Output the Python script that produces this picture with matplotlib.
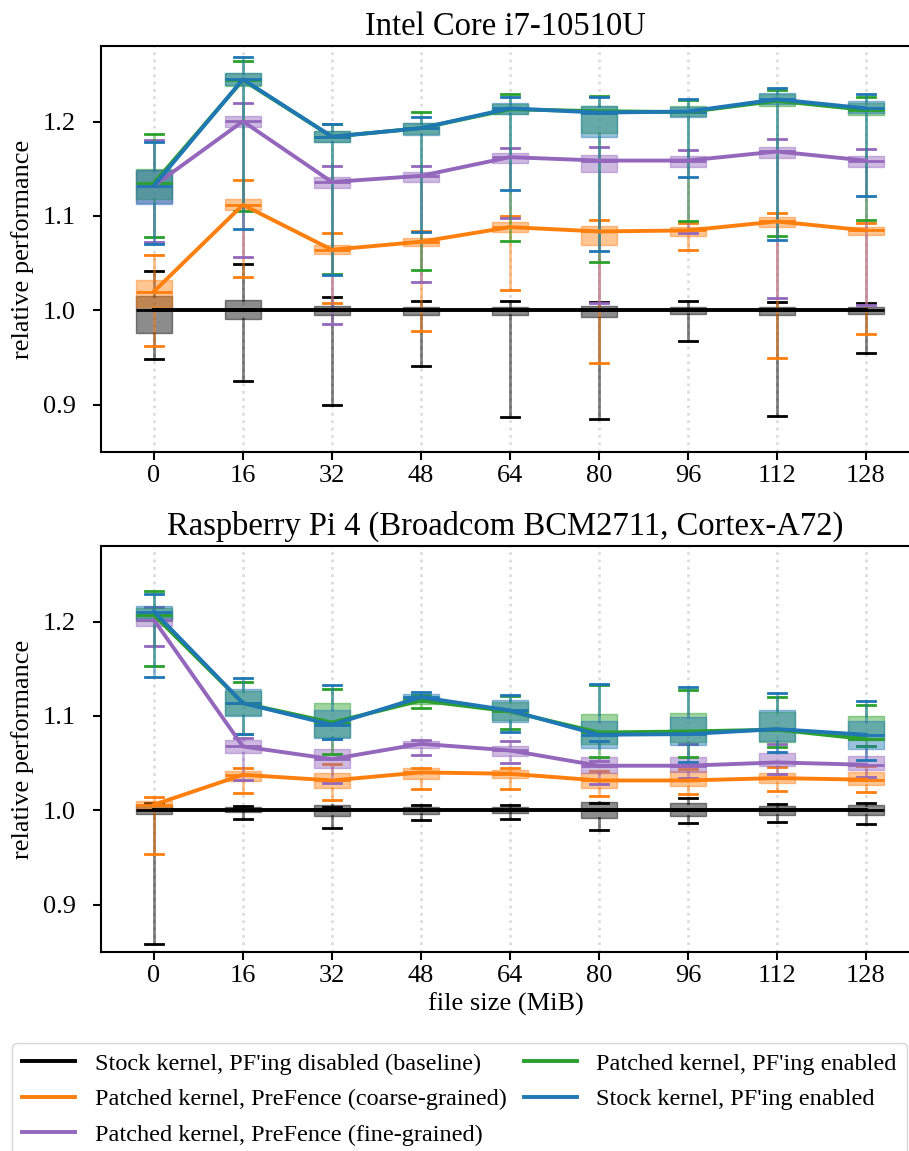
import matplotlib.pyplot as plt
import numpy as np

plt.rcParams['font.family'] = ['Liberation Serif', 'DejaVu Serif']

sizes = [0, 16, 32, 48, 64, 80, 96, 112, 128]

labels = ["Stock kernel, PF'ing disabled (baseline)",
          "Patched kernel, PreFence (coarse-grained)",
          "Patched kernel, PreFence (fine-grained)",
          "Patched kernel, PF'ing enabled",
          "Stock kernel, PF'ing enabled"]
colors = ['black', '#ff7f0e', '#9467bd', '#2ca02c', '#1f77b4']

# --- Intel Core i7-10510U ---
intel_base = dict(
    med=[1.0, 1.0, 1.0, 1.0, 1.0, 1.0, 1.0, 1.0, 1.0],
    q1=[0.976, 0.991, 0.995, 0.995, 0.995, 0.993, 0.996, 0.995, 0.996],
    q3=[1.015, 1.011, 1.005, 1.004, 1.004, 1.005, 1.004, 1.004, 1.004],
    lo=[0.9485, 0.925, 0.8995, 0.9414, 0.887, 0.8847, 0.9672, 0.8885, 0.955],
    hi=[1.0413, 1.0487, 1.0138, 1.0102, 1.0102, 1.0092, 1.0095, 1.0085, 1.0078])
intel_coarse = dict(
    med=[1.020, 1.1118, 1.0642, 1.0727, 1.0882, 1.0836, 1.0847, 1.0942, 1.0847],
    q1=[1.004, 1.106, 1.0597, 1.0685, 1.0829, 1.0689, 1.0787, 1.0879, 1.0797],
    q3=[1.0325, 1.1185, 1.0695, 1.0765, 1.0935, 1.0893, 1.0885, 1.0985, 1.0885],
    lo=[0.9626, 1.0356, 1.0074, 0.9778, 1.0219, 0.9443, 1.0642, 0.950, 0.975],
    hi=[1.0585, 1.138, 1.0822, 1.0843, 1.1005, 1.0956, 1.093, 1.103, 1.093])
intel_fine = dict(
    med=[1.132, 1.2003, 1.136, 1.1425, 1.1623, 1.1587, 1.1587, 1.1683, 1.1587],
    q1=[1.1136, 1.194, 1.1295, 1.1365, 1.1566, 1.1471, 1.1524, 1.1612, 1.1524],
    q3=[1.149, 1.206, 1.1418, 1.1467, 1.1665, 1.1647, 1.163, 1.1735, 1.1637],
    lo=[1.0727, 1.0564, 0.9855, 1.0296, 1.0977, 1.0078, 1.0818, 1.013, 1.006],
    hi=[1.18, 1.2194, 1.1527, 1.153, 1.1725, 1.1735, 1.17, 1.1813, 1.1707])
intel_patched = dict(
    med=[1.1347, 1.244, 1.184, 1.193, 1.213, 1.211, 1.21, 1.222, 1.2123],
    q1=[1.118, 1.2373, 1.178, 1.187, 1.2084, 1.1875, 1.2056, 1.216, 1.2073],
    q3=[1.150, 1.251, 1.1905, 1.199, 1.219, 1.2166, 1.216, 1.2288, 1.2194],
    lo=[1.0776, 1.1058, 1.039, 1.0423, 1.0737, 1.0508, 1.0949, 1.0783, 1.096],
    hi=[1.187, 1.2645, 1.197, 1.210, 1.229, 1.227, 1.223, 1.233, 1.2265])
intel_stock = dict(
    med=[1.132, 1.2448, 1.184, 1.193, 1.214, 1.2095, 1.2106, 1.2236, 1.214],
    q1=[1.1125, 1.2388, 1.178, 1.186, 1.2085, 1.184, 1.2049, 1.2183, 1.2088],
    q3=[1.149, 1.251, 1.1905, 1.198, 1.2198, 1.2166, 1.2158, 1.2307, 1.2222],
    lo=[1.0698, 1.086, 1.038, 1.083, 1.128, 1.0628, 1.141, 1.0748, 1.1213],
    hi=[1.1785, 1.2688, 1.1975, 1.205, 1.2257, 1.2257, 1.224, 1.236, 1.2293])

# --- Raspberry Pi 4 ---
rpi_base = dict(
    med=[1.0, 1.0, 1.0, 1.0, 1.0, 1.0, 1.0, 1.0, 1.0],
    q1=[0.9965, 0.998, 0.9937, 0.9965, 0.9972, 0.9915, 0.9937, 0.9951, 0.9951],
    q3=[1.006, 1.0032, 1.006, 1.0035, 1.0035, 1.009, 1.0078, 1.005, 1.0053],
    lo=[0.8589, 0.9908, 0.9813, 0.9894, 0.9912, 0.9792, 0.9862, 0.9877, 0.9855],
    hi=[1.0078, 1.0042, 1.004, 1.0053, 1.0053, 1.008, 1.013, 1.007, 1.0078])
rpi_coarse = dict(
    med=[1.006, 1.0377, 1.0317, 1.0402, 1.0388, 1.0317, 1.0317, 1.0342, 1.0325],
    q1=[1.0025, 1.0307, 1.0236, 1.0335, 1.0342, 1.0236, 1.0261, 1.0289, 1.0272],
    q3=[1.0095, 1.0420, 1.0395, 1.0445, 1.0423, 1.0395, 1.0413, 1.040, 1.0406],
    lo=[0.9538, 1.0183, 1.0113, 1.0226, 1.0226, 1.0155, 1.0176, 1.0201, 1.0198],
    hi=[1.0138, 1.0448, 1.049, 1.0444, 1.0444, 1.0420, 1.0440, 1.0459, 1.0466])
rpi_fine = dict(
    med=[1.2018, 1.0677, 1.0543, 1.0705, 1.0635, 1.0473, 1.0473, 1.0508, 1.0483],
    q1=[1.1958, 1.0603, 1.0448, 1.0663, 1.0575, 1.0395, 1.0409, 1.0466, 1.0427],
    q3=[1.2088, 1.0741, 1.0649, 1.0733, 1.068, 1.0564, 1.0568, 1.0607, 1.0575],
    lo=[1.1742, 1.0325, 1.029, 1.0589, 1.050, 1.0282, 1.0346, 1.0381, 1.0353],
    hi=[1.215, 1.0762, 1.0755, 1.0741, 1.073, 1.052, 1.070, 1.0705, 1.0685])
rpi_patched = dict(
    med=[1.207, 1.1136, 1.093, 1.1164, 1.1048, 1.0825, 1.0836, 1.0855, 1.0755],
    q1=[1.201, 1.1005, 1.078, 1.1127, 1.0955, 1.0705, 1.0723, 1.0723, 1.0748],
    q3=[1.2145, 1.126, 1.114, 1.1205, 1.1145, 1.102, 1.1033, 1.1037, 1.1001],
    lo=[1.153, 1.0811, 1.06, 1.1083, 1.086, 1.0564, 1.0564, 1.0667, 1.0677],
    hi=[1.2328, 1.1365, 1.129, 1.1225, 1.1212, 1.133, 1.127, 1.12, 1.1111])
rpi_stock = dict(
    med=[1.2106, 1.1136, 1.0907, 1.1199, 1.1058, 1.0801, 1.0808, 1.0861, 1.0801],
    q1=[1.2018, 1.0995, 1.0765, 1.1154, 1.0931, 1.0660, 1.0695, 1.0730, 1.0649],
    q3=[1.2166, 1.1284, 1.1065, 1.1235, 1.1171, 1.0942, 1.0987, 1.1065, 1.0942],
    lo=[1.1418, 1.0811, 1.0755, 1.1154, 1.0829, 1.073, 1.0511, 1.0621, 1.0529],
    hi=[1.229, 1.14, 1.1326, 1.1249, 1.1224, 1.134, 1.1312, 1.1242, 1.1157])

panels = [("Intel Core i7-10510U",
           [intel_base, intel_coarse, intel_fine, intel_patched, intel_stock]),
          ("Raspberry Pi 4 (Broadcom BCM2711, Cortex-A72)",
           [rpi_base, rpi_coarse, rpi_fine, rpi_patched, rpi_stock])]

fig = plt.figure(figsize=(9.09, 11.51), dpi=100)
# right edge of the axes runs past the figure edge, as in the cropped original
axes = [fig.add_axes([0.111, 0.6073, 0.91, 0.3527]),
        fig.add_axes([0.111, 0.1729, 0.91, 0.3527])]

for ax, (title, series) in zip(axes, panels):
    for i, (s, c, lab) in enumerate(zip(series, colors, labels)):
        stats = [dict(med=s['med'][k], q1=s['q1'][k], q3=s['q3'][k],
                      whislo=s['lo'][k], whishi=s['hi'][k])
                 for k in range(len(sizes))]
        ax.bxp(stats, positions=sizes, widths=6.4, showfliers=False,
               patch_artist=True, manage_ticks=False,
               boxprops=dict(facecolor=c, edgecolor=c, alpha=0.45, linewidth=1),
               whiskerprops=dict(color=c, alpha=0.5, linewidth=2),
               capprops=dict(color=c, linewidth=2),
               medianprops=dict(color=c, linewidth=2))
        ax.plot(sizes, s['med'], color=c, lw=2.8, label=lab,
                zorder=6 if i == 0 else 3 + i * 0.1)
    ax.set_xlim(-9.53, 139.2)
    ax.set_ylim(0.85, 1.28)
    ax.set_xticks(sizes)
    ax.set_yticks([0.9, 1.0, 1.1, 1.2])
    ax.grid(axis='x', linestyle=':', color='#dddddd', linewidth=2)
    ax.set_axisbelow(True)
    ax.tick_params(labelsize=19, width=1.5, length=6)
    ax.tick_params(axis='y', pad=12)
    for sp in ax.spines.values():
        sp.set_linewidth(1.5)
    ax.set_ylabel("relative performance", fontsize=19, labelpad=6)
    ax.set_title(title, fontsize=23.5, pad=8, x=0.489)

axes[1].set_xlabel("file size (MiB)", fontsize=19, x=0.489)

handles, labs = axes[0].get_legend_handles_labels()
fig.legend(handles, labs, loc='upper left', bbox_to_anchor=(0.0132, 0.0938),
           borderaxespad=0, ncol=2, fontsize=17.5, handlelength=2.2,
           handletextpad=0.8, columnspacing=0.7, labelspacing=0.55,
           frameon=True, edgecolor='#cccccc')

fig.savefig("out.png", dpi=100)
